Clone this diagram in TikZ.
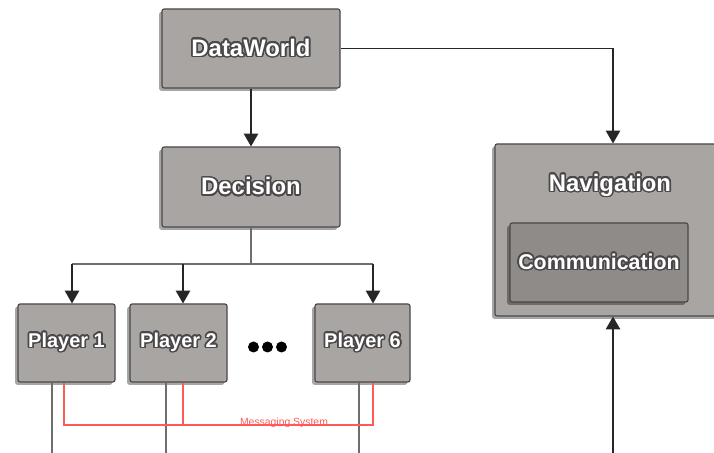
\documentclass[tikz,border=0pt]{standalone}
\usepackage{fontspec}
\setmainfont{Liberation Sans}
\usepackage{contour}
\usetikzlibrary{arrows.meta,shadows}
\contourlength{1.1pt}
\contournumber{24}
\definecolor{boxgray}{HTML}{A9A5A2}
\definecolor{innergray}{HTML}{8F8B88}
\definecolor{edgegray}{HTML}{4A4848}
\definecolor{wiregray}{HTML}{6E6E6E}
\definecolor{msgred}{HTML}{FF5A5A}
\newcommand{\boxtext}[1]{\textcolor{white}{\contour{edgegray}{#1}}}
\begin{document}
\begin{tikzpicture}
		\tikzstyle{Module} = [rectangle, rounded corners=1.5pt, minimum width=4.45cm, minimum height=2cm, text centered, draw=edgegray, line width=0.8pt, fill=boxgray, drop shadow={shadow xshift=-2pt, shadow yshift=-2pt, opacity=0.35, fill=black}, font=\fontsize{17}{20}\selectfont\bfseries]
		\tikzstyle{Player} = [Module, minimum width=2.425cm, minimum height=1.95cm, font=\fontsize{14.2}{17}\selectfont\bfseries]
		\tikzstyle{Inner} = [Module, fill=innergray, minimum height=1.975cm, font=\fontsize{15.2}{18}\selectfont\bfseries]
		\tikzstyle{Title} = [inner sep=0pt, font=\fontsize{17}{20}\selectfont\bfseries]
		\tikzstyle{arrow} = [draw=black!85, line width=1pt, -{Triangle[width=3.6mm,length=3.2mm]}]
		\tikzstyle{wire} = [draw=wiregray, line width=1pt]
		\tikzstyle{msg} = [draw=msgred, line width=0.8pt]
		
		\useasboundingbox (0,0) rectangle (17.85,11.325);
		\clip (0,0) rectangle (17.85,11.325);
		
		\node (dataworld) [Module, minimum height=1.975cm] at (6.275,10.1125) {\boxtext{DataWorld}};
		\node (decision) [Module] at (6.275,6.65) {\boxtext{Decision}};
		\node (p1) [Player] at (1.6625,2.75) {\boxtext{Player 1}};
		\node (p2) [Player] at (4.4625,2.75) {\boxtext{Player 2}};
		\node (p6) [Player, minimum width=2.375cm] at (9.0625,2.75) {\boxtext{Player 6}};
		\foreach \x in {6.3375,6.6875,7.0375}
			\fill[black] (\x,2.65) circle (0.1375);
		\node (nav) [Module, minimum width=5.9cm, minimum height=4.3cm] at (15.325,5.575) {};
		\node (navTitle) [Title] at (15.25,6.68) {\boxtext{Navigation}};
		\node (comm) [Inner] at (14.975,4.7625) {\boxtext{Communication}};
		
		% decision bus
		\coordinate (bus) at (6.275,4.725);
		\coordinate (b1) at (1.8,4.725);
		\coordinate (b2) at (4.575,4.725);
		\coordinate (b6) at (9.325,4.725);
		\draw [arrow] (dataworld) -- (decision);
		\draw [wire] (decision.south) -- (bus);
		\draw [wire] (b1) -- (b6);
		\draw [arrow] (b1) -- (b1 |- p1.north);
		\draw [arrow] (b2) -- (b2 |- p2.north);
		\draw [arrow] (b6) -- (b6 |- p6.north);
		\draw [arrow] (dataworld.east) -| (nav.north);
		
		% outputs
		\coordinate (o1) at (1.3,0);
		\coordinate (o2) at (4.15,0);
		\coordinate (o6) at (8.975,0);
		\coordinate (navIn) at (15.325,0);
		\draw [wire] (o1 |- p1.south) -- (o1);
		\draw [wire] (o2 |- p2.south) -- (o2);
		\draw [wire] (o6 |- p6.south) -- (o6);
		\draw [arrow] (navIn) -- (nav.south);
		
		% messaging system
		\coordinate (m1) at (1.6,0.7);
		\coordinate (m2) at (4.575,0.7);
		\coordinate (m6) at (9.325,0.7);
		\draw [msg] (m1 |- p1.south) -- (m1) -- (m6) -- (m6 |- p6.south);
		\draw [msg] (m2 |- p2.south) -- (m2);
		\node (msgLabel) [anchor=base, inner sep=0pt, text=msgred, font=\fontsize{7.4}{9}\selectfont] at (7.1,0.68) {Messaging System};
		\end{tikzpicture}
\end{document}
